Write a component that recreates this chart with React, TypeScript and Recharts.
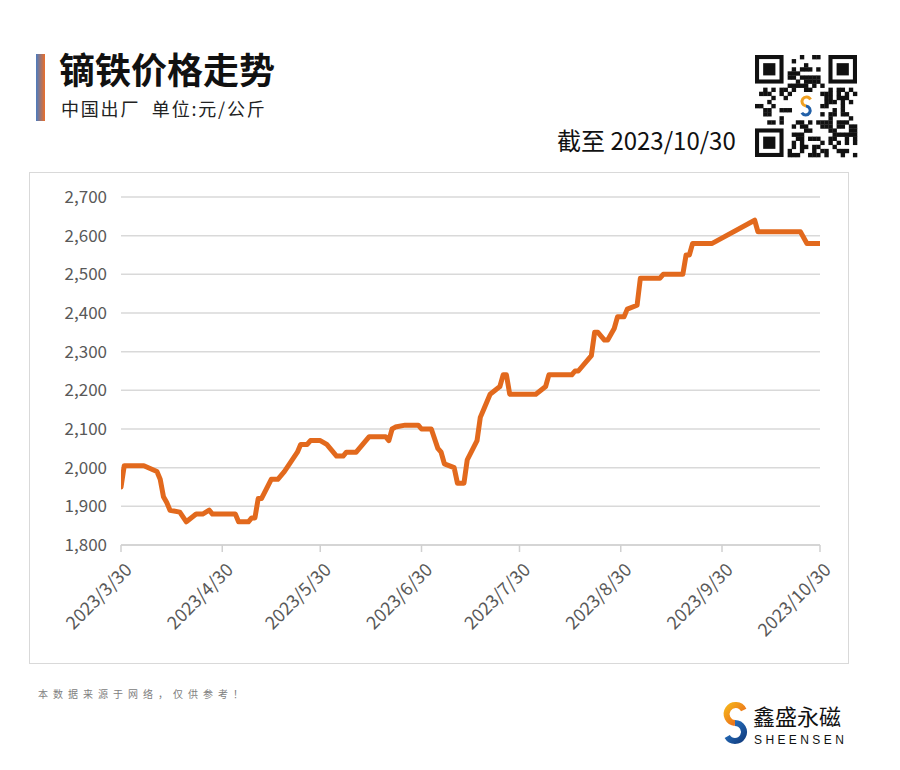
import React from 'react';
import { LineChart, Line, XAxis, YAxis, CartesianGrid } from 'recharts';

// day offset from 2023/3/30
const days = [0, 1, 7, 11, 12, 13, 14, 15, 18, 20, 23, 25, 27, 28, 35, 36, 39, 40, 41, 42, 43, 46, 48, 50, 54, 55, 57, 58, 61, 63, 66, 68, 69, 72, 74, 76, 81, 82, 83, 84, 87, 91, 92, 95, 97, 98, 99, 102, 103, 105, 106, 109, 110, 111, 113, 116, 117, 118, 119, 127, 130, 131, 138, 139, 140, 144, 145, 146, 148, 149, 151, 152, 154, 155, 158, 159, 165, 166, 172, 173, 174, 175, 181, 194, 195, 208, 210, 214];
const prices = [1950, 2005, 2005, 1990, 1970, 1925, 1910, 1890, 1885, 1860, 1880, 1880, 1890, 1880, 1880, 1860, 1860, 1870, 1870, 1920, 1920, 1970, 1970, 1990, 2040, 2060, 2060, 2070, 2070, 2060, 2030, 2030, 2040, 2040, 2060, 2080, 2080, 2070, 2100, 2105, 2110, 2110, 2100, 2100, 2050, 2040, 2010, 2000, 1960, 1960, 2020, 2070, 2130, 2150, 2190, 2210, 2240, 2240, 2190, 2190, 2210, 2240, 2240, 2250, 2250, 2290, 2350, 2350, 2330, 2330, 2360, 2390, 2390, 2410, 2420, 2490, 2490, 2500, 2500, 2550, 2550, 2580, 2580, 2640, 2610, 2610, 2580, 2580];

const tickDays = [0, 31, 61, 92, 122, 153, 184, 214];
const tickLabels = ['2023/3/30', '2023/4/30', '2023/5/30', '2023/6/30', '2023/7/30', '2023/8/30', '2023/9/30', '2023/10/30'];
const yTicks = [1800, 1900, 2000, 2100, 2200, 2300, 2400, 2500, 2600, 2700];

const title = '镝铁价格走势';
const subtitle = '中国出厂  单位:元/公斤';
const asOf = '截至 2023/10/30';
const footnote = '本数据来源于网络，仅供参考！';
const brand = '鑫盛永磁';
const brandEn = 'SHEENSEN';

const data = days.map((d, i) => ({ day: d, price: prices[i] }));

const CJK = '"Noto Sans CJK SC", "Noto Sans", sans-serif';

const XTick = (props: any) => {
  const { x, y, payload } = props;
  const idx = tickDays.indexOf(payload.value);
  const px = x + 12;
  const py = y + 17;
  return (
    <text x={px} y={py} transform={`rotate(-45 ${px} ${py})`} textAnchor="end" fill="#595959" fontSize={18} fontFamily={CJK}>
      {idx >= 0 ? tickLabels[idx] : ''}
    </text>
  );
};

// decorative QR-like pattern
const QR = () => {
  const n = 25;
  const ox = 755, oy = 55, s = 102 / n;
  const cells: any[] = [];
  const inFinder = (r: number, c: number) =>
    (r < 8 && c < 8) || (r < 8 && c >= n - 8) || (r >= n - 8 && c < 8);
  for (let r = 0; r < n; r++) {
    for (let c = 0; c < n; c++) {
      if (inFinder(r, c)) continue;
      if (r >= 9 && r <= 15 && c >= 9 && c <= 15) continue;
      const h = ((r * 73 + c * 151 + r * c * 37) ^ (r * 19 + c * 7)) % 11;
      if (h < 5) cells.push(<rect key={`${r}-${c}`} x={ox + c * s} y={oy + r * s} width={s + 0.3} height={s + 0.3} fill="#111" />);
    }
  }
  const finder = (r: number, c: number) => (
    <g key={`f${r}${c}`}>
      <rect x={ox + c * s + s / 2} y={oy + r * s + s / 2} width={6 * s} height={6 * s} fill="none" stroke="#111" strokeWidth={s} />
      <rect x={ox + (c + 2) * s} y={oy + (r + 2) * s} width={3 * s} height={3 * s} fill="#111" />
    </g>
  );
  return (
    <g>
      <rect x={ox} y={oy} width={102} height={102} fill="#fff" />
      {cells}
      {finder(0, 0)}
      {finder(0, n - 7)}
      {finder(n - 7, 0)}
      <rect x={794} y={92} width={24} height={28} fill="#fff" rx={2} />
      <path d="M 810.5 99.5 A 4.5 4.5 0 1 0 806 106" fill="none" stroke="#F0A020" strokeWidth={3} />
      <path d="M 806 106 A 4.5 4.5 0 1 1 801.8 112.8" fill="none" stroke="#2260A8" strokeWidth={3} />
    </g>
  );
};

export default function App() {
  return (
    <div style={{ position: 'absolute', left: 0, top: 0, width: 900, height: 770, background: '#fff' }}>
      <svg width={900} height={770} style={{ position: 'absolute', left: 0, top: 0 }}>
        <defs>
          <linearGradient id="bar" x1="0" y1="0" x2="1" y2="0">
            <stop offset="0" stopColor="#4A7CC0" />
            <stop offset="1" stopColor="#EC6E28" />
          </linearGradient>
          <linearGradient id="logoTop" x1="0" y1="0" x2="1" y2="1">
            <stop offset="0" stopColor="#F5B21A" />
            <stop offset="1" stopColor="#E8601C" />
          </linearGradient>
          <linearGradient id="logoBot" x1="0" y1="0" x2="1" y2="1">
            <stop offset="0" stopColor="#2A78C8" />
            <stop offset="1" stopColor="#123E80" />
          </linearGradient>
        </defs>
        <rect x={36} y={54} width={9} height={67} fill="url(#bar)" />
        <text x={59} y={84} fontSize={36} fontWeight={700} fill="#111" fontFamily={CJK}>{title}</text>
        <text x={61} y={116} fontSize={18} fill="#222" letterSpacing={1.8} fontFamily={CJK} style={{ whiteSpace: 'pre' }}>{subtitle}</text>
        <text x={557} y={150} fontSize={24} fill="#111" fontFamily={CJK}>{asOf}</text>
        <QR />
        <rect x={29.5} y={172.5} width={819} height={491} fill="none" stroke="#d9d9d9" strokeWidth={1} />
        <text x={38} y={698} fontSize={10} fill="#808080" letterSpacing={5} fontFamily={CJK}>{footnote}</text>
        <path d="M 743.7 710 A 9 9 0 1 0 735 723" fill="none" stroke="url(#logoTop)" strokeWidth={6} />
        <path d="M 735 723 A 9 9 0 1 1 727.2 736.5" fill="none" stroke="url(#logoBot)" strokeWidth={6} />
        <text x={753} y={725} fontSize={22} fill="#111" fontFamily={CJK}>{brand}</text>
        <text x={754} y={744} fontSize={12} fill="#111" letterSpacing={3.4} fontFamily='"Liberation Sans", Arial, sans-serif'>{brandEn}</text>
      </svg>
      <div style={{ position: 'absolute', left: 0, top: 0 }}>
        <LineChart width={900} height={770} data={data} margin={{ top: 197, right: 80, bottom: 125, left: 0 }}>
          <CartesianGrid horizontal vertical={false} stroke="#d9d9d9" strokeWidth={1.5} />
          <XAxis
            type="number"
            dataKey="day"
            domain={[0, 214]}
            ticks={tickDays}
            interval={0}
            height={100}
            tickSize={7}
            axisLine={{ stroke: '#d0d0d0', strokeWidth: 1.5 }}
            tickLine={{ stroke: '#d0d0d0', strokeWidth: 1.5 }}
            tick={<XTick />}
            allowDataOverflow
          />
          <YAxis
            type="number"
            domain={[1800, 2700]}
            ticks={yTicks}
            interval={0}
            width={121}
            axisLine={false}
            tickLine={false}
            tickMargin={8}
            tick={{ fill: '#595959', fontSize: 17, fontFamily: CJK }}
            tickFormatter={(v: number) => v.toLocaleString('en-US')}
            allowDataOverflow
          />
          <Line
            type="linear"
            dataKey="price"
            stroke="#E2691D"
            strokeWidth={5}
            dot={false}
            strokeLinejoin="round"
            strokeLinecap="round"
            isAnimationActive={false}
          />
        </LineChart>
      </div>
    </div>
  );
}
